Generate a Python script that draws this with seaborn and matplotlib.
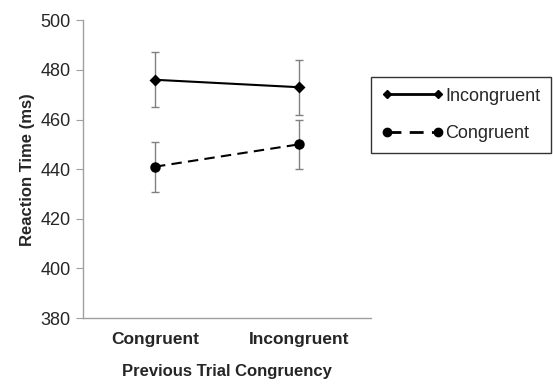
import numpy as np
import pandas as pd
import seaborn as sns
from matplotlib import pyplot as plt
from matplotlib.lines import Line2D

sns.set_style("white")
plt.rcParams["font.family"] = ["Liberation Sans", "DejaVu Sans"]

# data
prev_trial = ["Congruent", "Incongruent"]
incongruent_rt = [476, 473]
incongruent_err = [11, 11]
congruent_rt = [441, 450]
congruent_err = [10, 10]

df = pd.DataFrame({
    "Previous Trial Congruency": prev_trial * 2,
    "RT": incongruent_rt + congruent_rt,
    "Current": ["Incongruent"] * 2 + ["Congruent"] * 2,
})

fig = plt.figure(figsize=(5.53, 3.88), dpi=100)
ax = fig.add_axes([0.150, 0.180, 0.521, 0.768])

sns.pointplot(
    data=df, x="Previous Trial Congruency", y="RT", hue="Current",
    hue_order=["Incongruent", "Congruent"], order=prev_trial,
    palette=["black", "black"], markers=["D", "o"], linestyles=["-", "--"],
    errorbar=None, ax=ax, legend=False,
)
for line, ms in zip(ax.lines, [4, 5.5]):
    line.set_markersize(ms)
    line.set_linewidth(1.5)
ax.lines[1].set_dashes([5, 3])

x = np.arange(len(prev_trial))
for vals, errs in [(incongruent_rt, incongruent_err), (congruent_rt, congruent_err)]:
    ax.errorbar(x, vals, yerr=errs, fmt="none", ecolor="#808080",
                elinewidth=1, capsize=3, capthick=1, zorder=1)

ax.set_ylim(380, 500)
ax.set_yticks(range(380, 501, 20))
ax.set_xlim(-0.5, 1.5)
ax.set_xticks(x)
ax.set_xticks([-0.5, 0.5, 1.5], minor=True)
ax.tick_params(axis="x", which="major", length=0, pad=10)
ax.tick_params(axis="x", which="minor", length=5, color="#a0a0a0", width=1)
ax.tick_params(axis="y", left=True, length=5, color="#a0a0a0", labelsize=13, pad=4)
for lbl in ax.get_xticklabels():
    lbl.set_fontweight("bold")
    lbl.set_fontsize(12.5)

sns.despine(ax=ax)
for s in ["left", "bottom"]:
    ax.spines[s].set_color("#a0a0a0")
    ax.spines[s].set_linewidth(1)

ax.set_ylabel("Reaction Time (ms)", fontsize=12, fontweight="bold", labelpad=4)
ax.set_xlabel("Previous Trial Congruency", fontsize=12, fontweight="bold", labelpad=12)

handles = [
    Line2D([], [], color="black", marker="D", markersize=4, linestyle="-", lw=2),
    Line2D([], [], color="black", marker="o", markersize=6, linestyle="--",
           lw=2, dashes=[5, 3]),
]
leg = fig.legend(handles, ["Incongruent", "Congruent"], loc="upper left",
                 bbox_to_anchor=(0.671, 0.802), fontsize=13, frameon=True,
                 fancybox=False, edgecolor="black", handlelength=3.4,
                 handletextpad=0.1, borderpad=0.6, labelspacing=1.15,
                 borderaxespad=0, numpoints=2)
leg.get_frame().set_linewidth(1)

fig.savefig("out.png", dpi=100)
